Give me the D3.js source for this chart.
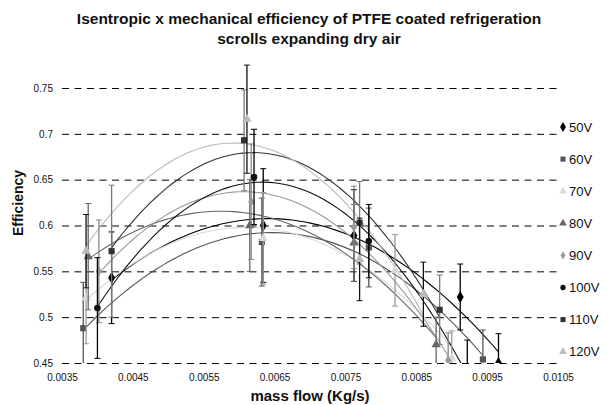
<!DOCTYPE html>
<html>
<head>
<meta charset="utf-8">
<script src="https://cdn.jsdelivr.net/npm/d3@7"></script>
<style>
  body { margin: 0; background: #fff; }
  svg { display: block; font-family: "Liberation Sans", Arial, sans-serif; }
</style>
</head>
<body>
<script>
// series labels, one entry per voltage
const voltages = ["50V", "60V", "70V", "80V", "90V", "100V", "110V", "120V"]

// mass flow (kg/s) per series
const massFlow = [
  [0.00420, 0.00634, 0.00762, 0.00912, 0.00966],
  [0.00380, 0.00632, 0.00783, 0.00944],
  [0.00384, 0.00634, 0.00820, 0.00900],
  [0.00387, 0.00615, 0.00762, 0.00878],
  [0.00402, 0.00617, 0.00762, 0.00895],
  [0.00400, 0.00621, 0.00783, 0.00922],
  [0.00420, 0.00607, 0.00770, 0.00883],
  [0.00384, 0.00611, 0.00770, 0.00860]
]

// isentropic x mechanical efficiency per series
const efficiency = [
  [0.543, 0.600, 0.589, 0.522, 0.450],
  [0.488, 0.582, 0.576, 0.454],
  [0.521, 0.586, 0.551, 0.455],
  [0.566, 0.600, 0.581, 0.470],
  [0.550, 0.626, 0.598, 0.453],
  [0.510, 0.653, 0.583, 0.440],
  [0.572, 0.693, 0.603, 0.508],
  [0.572, 0.716, 0.563, 0.525]
]

// error bar half-width per point
const errorBar = [
  [0.050, 0.062, 0.050, 0.036, 0.032],
  [0.050, 0.048, 0.043, 0.032],
  [0.050, 0.050, 0.039, 0.030],
  [0.058, 0.050, 0.042, 0.030],
  [0.056, 0.063, 0.045, 0.030],
  [0.055, 0.052, 0.040, 0.035],
  [0.072, 0.055, 0.045, 0.038],
  [0.040, 0.059, 0.045, 0.035]
]

const yTicks = [0.45, 0.5, 0.55, 0.6, 0.65, 0.7, 0.75]
const xTicks = [0.0035, 0.0045, 0.0055, 0.0065, 0.0075, 0.0085, 0.0095, 0.0105]

// look of each series
const colors    = ["#000", "#555", "#d8d8d8", "#666", "#999", "#111", "#333", "#bbb"]
const errColors = ["#000", "#555", "#999", "#666", "#888", "#000", "#777", "#111"]
const shapes = [d3.symbolDiamond, d3.symbolSquare, d3.symbolTriangle, d3.symbolTriangle,
                d3.symbolDiamond, d3.symbolCircle, d3.symbolSquare, d3.symbolTriangle]
const sizes = [30, 26, 26, 26, 20, 22, 26, 26]

const width = 611, height = 405
const plot = {left: 62, right: 558, top: 88, bottom: 363}

const svg = d3.select("body").append("svg")
  .attr("width", width)
  .attr("height", height)

const x = d3.scaleLinear().domain([0.0035, 0.0105]).range([plot.left, plot.right])
const y = d3.scaleLinear().domain([0.45, 0.75]).range([plot.bottom, plot.top])

svg.append("defs").append("clipPath").attr("id", "clip")
  .append("rect")
  .attr("x", plot.left).attr("y", 0)
  .attr("width", plot.right - plot.left).attr("height", plot.bottom)

// title
svg.append("text")
  .attr("x", 309).attr("y", 24)
  .attr("text-anchor", "middle")
  .style("font-size", "15.5px").style("font-weight", "bold")
  .attr("fill", "#111")
  .selectAll("tspan")
  .data(["Isentropic x mechanical efficiency of PTFE coated refrigeration", "scrolls expanding dry air"])
  .join("tspan")
  .attr("x", 309)
  .attr("dy", (d, i) => i ? 19.5 : 0)
  .text(d => d)

// gridlines + tick labels
svg.append("g")
  .attr("transform", `translate(${plot.left},0)`)
  .call(d3.axisLeft(y).tickValues(yTicks).tickSize(-(plot.right - plot.left)).tickPadding(9)
    .tickFormat(d3.format("~g")))
  .call(g => g.select(".domain").remove())
  .call(g => g.selectAll("line").attr("stroke", "#000").attr("stroke-dasharray", "7,5.5"))
  .call(g => g.selectAll("text").style("font-size", "10px").attr("fill", "#111"))

svg.append("g")
  .attr("transform", `translate(0,${plot.bottom})`)
  .call(d3.axisBottom(x).tickValues(xTicks).tickSize(0).tickPadding(11).tickFormat(d3.format(".4f")))
  .call(g => g.select(".domain").remove())
  .call(g => g.selectAll("text").style("font-size", "10px").attr("fill", "#111"))

// axis titles
svg.append("text")
  .attr("x", 310).attr("y", 401)
  .attr("text-anchor", "middle")
  .style("font-size", "15px").style("font-weight", "bold")
  .attr("fill", "#111")
  .text("mass flow (Kg/s)")

svg.append("text")
  .attr("transform", "translate(23,203) rotate(-90)")
  .attr("text-anchor", "middle")
  .style("font-size", "14px").style("font-weight", "bold")
  .attr("fill", "#111")
  .text("Efficiency")

// least squares 2nd order polynomial, like the spreadsheet trendline
function polyFit(xs, ys) {
  const c = 0.0065, k = 1000
  const u = xs.map(v => (v - c) * k)
  const S = [0, 0, 0, 0, 0], T = [0, 0, 0]
  u.forEach((v, i) => {
    for (let p = 0; p < 5; p++) S[p] += Math.pow(v, p)
    for (let p = 0; p < 3; p++) T[p] += Math.pow(v, p) * ys[i]
  })
  const A = [[S[0], S[1], S[2], T[0]], [S[1], S[2], S[3], T[1]], [S[2], S[3], S[4], T[2]]]
  for (let i = 0; i < 3; i++) {
    for (let j = i + 1; j < 3; j++) {
      const f = A[j][i] / A[i][i]
      for (let m = i; m < 4; m++) A[j][m] -= f * A[i][m]
    }
  }
  const b = [0, 0, 0]
  for (let i = 2; i >= 0; i--) {
    let s = A[i][3]
    for (let m = i + 1; m < 3; m++) s -= A[i][m] * b[m]
    b[i] = s / A[i][i]
  }
  return v => { const t = (v - c) * k; return b[0] + b[1] * t + b[2] * t * t }
}

const chart = svg.append("g").attr("clip-path", "url(#clip)")
const line = d3.line().x(d => x(d[0])).y(d => y(d[1]))

voltages.forEach((v, s) => {
  const f = polyFit(massFlow[s], efficiency[s])
  const [lo, hi] = d3.extent(massFlow[s])
  const pts = d3.range(0, 61).map(i => { const t = lo + (hi - lo) * i / 60; return [t, f(t)] })
  chart.append("path")
    .attr("d", line(pts))
    .attr("fill", "none")
    .attr("stroke", colors[s])
    .attr("stroke-width", 1.1)
})

voltages.forEach((v, s) => {
  const g = chart.append("g")
  massFlow[s].forEach((m, i) => {
    const cx = x(m), e = efficiency[s][i], er = errorBar[s][i]
    g.append("line")
      .attr("x1", cx).attr("x2", cx)
      .attr("y1", y(e - er)).attr("y2", y(e + er))
      .attr("stroke", errColors[s]).attr("stroke-width", 1.3)
    ;[e - er, e + er].forEach(t => g.append("line")
      .attr("x1", cx - 3).attr("x2", cx + 3)
      .attr("y1", y(t)).attr("y2", y(t))
      .attr("stroke", errColors[s]).attr("stroke-width", 1))
  })
  g.selectAll("path")
    .data(massFlow[s].map((m, i) => [m, efficiency[s][i]]))
    .join("path")
    .attr("transform", d => `translate(${x(d[0])},${y(d[1])})`)
    .attr("d", d3.symbol(shapes[s], sizes[s] + 12))
    .attr("fill", colors[s])
})

// legend
const legend = svg.append("g")
voltages.forEach((v, s) => {
  const ly = 127 + s * 32.1
  legend.append("path")
    .attr("transform", `translate(563,${ly})`)
    .attr("d", d3.symbol(shapes[s], sizes[s]))
    .attr("fill", colors[s])
  legend.append("text")
    .attr("x", 569).attr("y", ly + 4.5)
    .style("font-size", "13px")
    .attr("fill", "#111")
    .text(v)
})
</script>
</body>
</html>
